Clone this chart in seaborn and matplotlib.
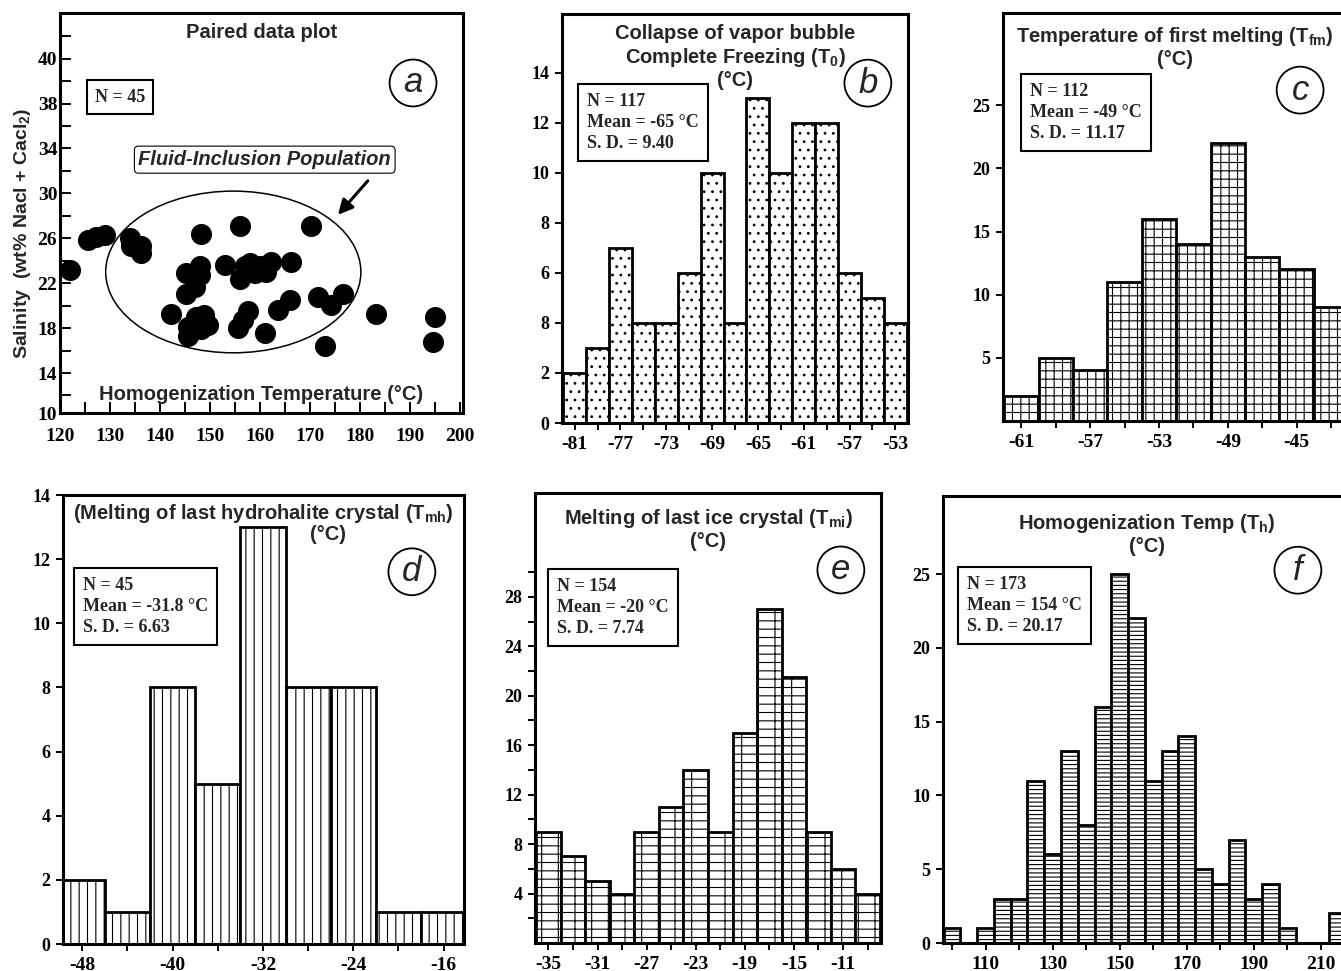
import numpy as np
import pandas as pd
import matplotlib
matplotlib.use("Agg")
import matplotlib.pyplot as plt
from matplotlib.patches import Ellipse
import seaborn as sns

# --- data ---

# (a) paired data: homogenization temperature vs salinity
a_temp = [122.0, 125.7, 127.3, 129.0, 134.0, 134.3, 136.3, 136.3,
          142.3, 145.3, 145.3, 147.0, 148.0, 148.0, 148.3, 145.7, 145.7,
          147.3, 148.9, 148.3, 149.7, 153.0, 156.0, 156.0, 157.0, 158.0,
          159.0, 160.0, 162.3, 161.3, 157.7, 156.7, 155.7, 161.0, 163.7,
          166.0, 166.3, 170.3, 171.7, 174.3, 176.7, 173.0, 183.3, 195.0, 194.7]
a_salinity = [23.2, 25.85, 26.1, 26.3, 26.0, 25.3, 25.3, 24.7,
              19.3, 22.9, 21.0, 21.7, 23.5, 22.7, 26.4, 18.1, 17.3,
              19.0, 19.2, 17.9, 18.3, 23.6, 27.1, 22.4, 23.5, 23.8,
              22.9, 23.5, 23.9, 23.0, 19.5, 18.7, 18.0, 17.6, 19.6,
              20.5, 23.9, 27.1, 20.8, 20.1, 21.0, 16.4, 19.3, 19.0, 16.8]

# (b) collapse of vapor bubble / complete freezing
b_centers = [-81, -79, -77, -75, -73, -71, -69, -67, -65, -63, -61, -59, -57, -55, -53]
b_counts = [2, 3, 7, 4, 4, 6, 10, 4, 13, 10, 12, 12, 6, 5, 4]

# (c) temperature of first melting
c_centers = [-61, -59, -57, -55, -53, -51, -49, -47, -45, -43]
c_counts = [2, 5, 4, 11, 16, 14, 22, 13, 12, 9]

# (d) melting of last hydrohalite crystal
d_centers = [-48, -44, -40, -36, -32, -28, -24, -20, -16]
d_counts = [2, 1, 8, 5, 13, 8, 8, 1, 1]

# (e) melting of last ice crystal
e_centers = [-35, -33, -31, -29, -27, -25, -23, -21, -19, -17, -15, -13, -11, -9]
e_counts = [9, 7, 5, 4, 9, 11, 14, 9, 17, 27, 21.5, 9, 6, 4]

# (f) homogenization temperature
f_centers = [100, 105, 110, 115, 120, 125, 130, 135, 140, 145, 150, 155,
             160, 165, 170, 175, 180, 185, 190, 195, 200, 205, 210, 215]
f_counts = [1, 0, 1, 3, 3, 11, 6, 13, 8, 16, 25, 22,
            11, 13, 14, 5, 4, 7, 3, 4, 1, 0, 0, 2]

# --- style ---
sns.set_style("ticks")
plt.rcParams["font.family"] = ["Liberation Sans", "DejaVu Sans"]
plt.rcParams["mathtext.default"] = "regular"
plt.rcParams["hatch.linewidth"] = 0.8
plt.rcParams["hatch.color"] = "black"

SERIF = dict(family="Liberation Serif", weight="bold")
W, H = 1341, 971
fig = plt.figure(figsize=(W / 100, H / 100), dpi=100)


def add_ax(l, t, r, b):
    return fig.add_axes([l / W, 1 - b / H, (r - l) / W, (b - t) / H])


def frame(ax, direction="out"):
    for s in ax.spines.values():
        s.set_visible(True)
        s.set_linewidth(2.2)
        s.set_color("black")
    ax.tick_params(direction=direction, width=1.4, length=5, colors="black")
    ax.set_xlabel("")
    ax.set_ylabel("")


def set_ticks(ax, axis, ticks, labels, size=13, pad=4):
    if axis == "x":
        ax.set_xticks(ticks, labels, fontsize=size, **SERIF)
        ax.tick_params(axis="x", pad=pad)
    else:
        ax.set_yticks(ticks, labels, fontsize=size, **SERIF)
        ax.tick_params(axis="y", pad=pad)


def hist(ax, centers, counts, width, hatch):
    df = pd.DataFrame({"center": centers, "count": counts})
    edges = [c - width / 2 for c in centers] + [centers[-1] + width / 2]
    sns.histplot(data=df, x="center", weights="count", bins=edges, ax=ax,
                 color="white", edgecolor="black", linewidth=2.0, alpha=1)
    for p in ax.patches:
        p.set_hatch(hatch)
        p.set_facecolor("white")


def stats_box(ax, x, y, txt):
    ax.text(x, y, txt, transform=ax.transAxes, ha="left", va="top",
            fontsize=13, linespacing=1.3, zorder=5,
            bbox=dict(boxstyle="square,pad=0.5", fc="white", ec="black", lw=1.5),
            **SERIF)


def letter(ax, x, y, s):
    ax.text(x, y, s, transform=ax.transAxes, ha="center", va="center",
            fontsize=25, style="italic", zorder=5,
            bbox=dict(boxstyle="circle,pad=0.2", fc="white", ec="black", lw=1.3))


def title(ax, x, y, txt, **kw):
    ax.text(x, y, txt, transform=ax.transAxes, ha="center", va="top",
            fontsize=14.5, weight="bold", linespacing=1.15, zorder=5, **kw)


# --- (a) paired data plot ---
ax = add_ax(60, 13, 463, 413)
sns.scatterplot(x=a_temp, y=a_salinity, s=230, color="black", linewidth=0,
                ax=ax, legend=False, zorder=3)
ax.add_patch(Ellipse((154.7, 23.0), 51.1, 14.4, fill=False, ec="black", lw=1.1))
ax.set_xlim(120, 200.7)
ax.set_ylim(10.44, 46.06)
frame(ax, "in")
xt = list(range(120, 201, 5))
set_ticks(ax, "x", xt, [str(v) if v % 10 == 0 else "" for v in xt], size=14, pad=11)
yt = [10.44] + list(range(12, 45, 2))
ylab = {10.44: "10", 14: "14", 18: "18", 22: "22", 26: "26", 30: "30",
        34: "34", 38: "38", 42: "40"}
set_ticks(ax, "y", yt, [ylab.get(v, "") for v in yt], size=14, pad=2)
ax.tick_params(axis="both", length=8)
title(ax, 0.5, 0.975, "Paired data plot")
ax.text(0.5, 0.045, "Homogenization Temperature (°C)", transform=ax.transAxes,
        ha="center", va="center", fontsize=14.5, weight="bold")
ax.text(-0.094, 0.45, "Salinity  (wt% Nacl + Cacl$_2$)", transform=ax.transAxes,
        rotation=90, ha="center", va="center", fontsize=14, weight="bold")
ax.text(0.087, 0.79, "N = 45", transform=ax.transAxes, ha="left", va="center",
        fontsize=13, bbox=dict(boxstyle="square,pad=0.45", fc="white", ec="black", lw=1.5),
        **SERIF)
ax.text(161, 33, "Fluid-Inclusion Population", ha="center", va="center",
        fontsize=14.5, weight="bold", style="italic",
        bbox=dict(boxstyle="round,pad=0.2", fc="white", ec="black", lw=0.8))
ax.annotate("", xy=(175.3, 27.9), xytext=(182, 31.3),
            arrowprops=dict(arrowstyle="-|>", lw=2.2, color="black", mutation_scale=22))
letter(ax, 0.876, 0.825, "a")

# --- (b) complete freezing ---
ax = add_ax(562, 14, 908, 423)
hist(ax, b_centers, b_counts, 2, "..")
ax.set_xlim(-82.1, -51.9)
ax.set_ylim(0, 16.35)
frame(ax)
xt = list(range(-81, -52, 2))
set_ticks(ax, "x", xt, [str(v) if (v + 81) % 4 == 0 else "" for v in xt], size=14)
set_ticks(ax, "y", list(range(0, 15, 2)), ["0", "2", "8", "6", "8", "10", "12", "14"])
title(ax, 0.5, 0.975, "Collapse of vapor bubble\nComplete Freezing (T$_0$)\n(°C)")
stats_box(ax, 0.072, 0.807, "N = 117\nMean = -65 °C\nS. D. = 9.40")
letter(ax, 0.884, 0.831, "b")

# --- (c) first melting ---
ax = add_ax(1003, 13, 1381, 421)
hist(ax, c_centers, c_counts, 2, "++")
ax.set_xlim(-62.07, -40.1)
ax.set_ylim(0, 32.3)
frame(ax)
xt = list(range(-61, -42, 2))
set_ticks(ax, "x", xt, [str(v) if (v + 61) % 4 == 0 else "" for v in xt], size=14)
set_ticks(ax, "y", [5, 10, 15, 20, 25], ["5", "10", "15", "20", "25"])
title(ax, 0.455, 0.97, "Temperature of first melting (T$_{fm}$)\n(°C)")
stats_box(ax, 0.071, 0.828, "N = 112\nMean = -49 °C\nS. D. = 11.17")
letter(ax, 0.786, 0.811, "c")

# --- (d) last hydrohalite crystal ---
ax = add_ax(63, 495, 464, 944)
hist(ax, d_centers, d_counts, 4, "||")
ax.set_xlim(-49.7, -14.2)
ax.set_ylim(0, 14)
frame(ax)
xt = list(range(-48, -15, 4))
set_ticks(ax, "x", xt, [str(v) if (v + 48) % 8 == 0 else "" for v in xt], size=14)
set_ticks(ax, "y", list(range(0, 15, 2)), [str(v) for v in range(0, 15, 2)])
title(ax, 0.5, 0.984, "(Melting of last hydrohalite crystal (T$_{mh}$)")
ax.text(0.66, 0.911, "(°C)", transform=ax.transAxes, ha="center", va="center",
        fontsize=14.5, weight="bold")
stats_box(ax, 0.05, 0.817, "N = 45\nMean = -31.8 °C\nS. D. = 6.63")
letter(ax, 0.87, 0.829, "d")

# --- (e) last ice crystal ---
ax = add_ax(535, 493, 881, 943)
hist(ax, e_centers, e_counts, 2, "--|")
ax.set_xlim(-36.1, -7.9)
ax.set_ylim(0, 36.4)
frame(ax)
xt = list(range(-35, -8, 2))
set_ticks(ax, "x", xt, [str(v) if (v + 35) % 4 == 0 else "" for v in xt], size=14)
yt = list(range(2, 31, 2))
set_ticks(ax, "y", yt, [str(v) if v % 4 == 0 else "" for v in yt])
title(ax, 0.5, 0.969, "Melting of last ice crystal (T$_{mi}$)\n(°C)")
stats_box(ax, 0.064, 0.811, "N = 154\nMean = -20 °C\nS. D. = 7.74")
letter(ax, 0.884, 0.829, "e")

# --- (f) homogenization temperature ---
ax = add_ax(943, 496, 1361, 943)
hist(ax, f_centers, f_counts, 5, "----")
ax.set_xlim(97.3, 222)
ax.set_ylim(0, 30.3)
frame(ax)
xt = list(range(100, 221, 10))
set_ticks(ax, "x", xt, [str(v) if (v - 110) % 20 == 0 else "" for v in xt], size=14)
set_ticks(ax, "y", [0, 5, 10, 15, 20, 25], ["0", "5", "10", "15", "20", "25"])
title(ax, 0.488, 0.964, "Homogenization Temp (T$_h$)\n(°C)")
stats_box(ax, 0.057, 0.821, "N = 173\nMean = 154 °C\nS. D. = 20.17")
letter(ax, 0.849, 0.834, "f")

fig.savefig("out.png", dpi=100, facecolor="white")
